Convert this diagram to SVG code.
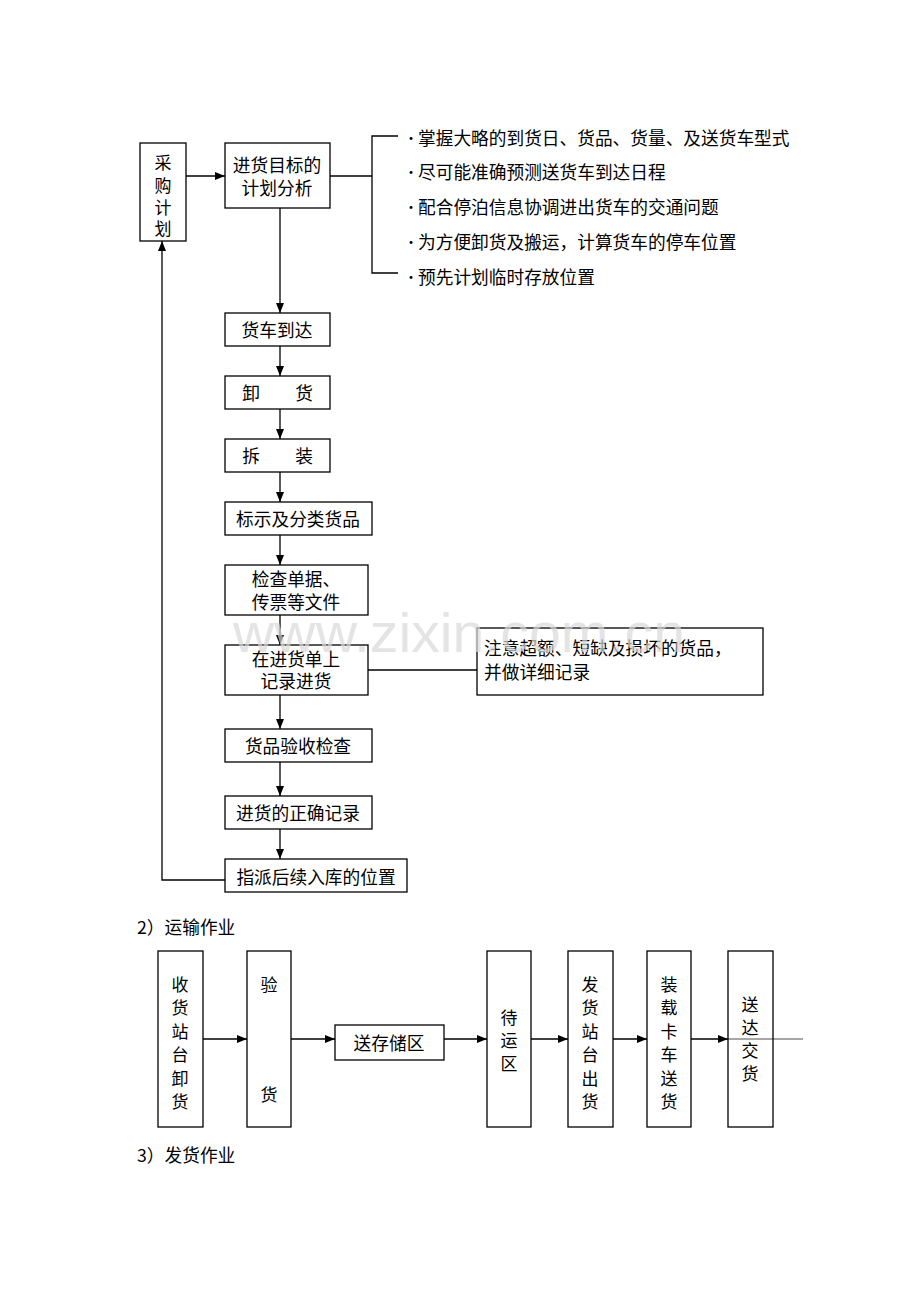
<svg xmlns="http://www.w3.org/2000/svg" width="920" height="1302" viewBox="0 0 920 1302">
<style>
text{font-family:"Noto Sans CJK SC","Liberation Serif",sans-serif;font-size:17.7px;fill:#000;dominant-baseline:central}
.c{text-anchor:middle}
.v{font-size:17px}
.box{fill:#fff;stroke:#000;stroke-width:1.3}
.ln{fill:none;stroke:#000;stroke-width:1.3}
.ar{fill:none;stroke:#000;stroke-width:1.3;marker-end:url(#ah)}
.bu{font-size:14px}
.wm{font-family:"Liberation Sans",Arial,sans-serif;font-size:56px;fill:#d8d8d8;fill-opacity:0.7;dominant-baseline:alphabetic}
</style>
<defs>
<marker id="ah" markerUnits="userSpaceOnUse" markerWidth="10" markerHeight="8" refX="10" refY="4" orient="auto">
<path d="M0,0 L10,4 L0,8 z" fill="#000"/>
</marker>
</defs>
<rect width="920" height="1302" fill="#fff"/>

<g id="connectors">
<line class="ar" x1="186" y1="176" x2="225" y2="176"/>
<polyline class="ln" points="330,176 372,176"/>
<polyline class="ln" points="398,136 372,136 372,273 398,273"/>
<line class="ar" x1="280" y1="208" x2="280" y2="313"/>
<line class="ar" x1="280" y1="346" x2="280" y2="376"/>
<line class="ar" x1="280" y1="409" x2="280" y2="439"/>
<line class="ar" x1="280" y1="472" x2="280" y2="502"/>
<line class="ar" x1="280" y1="535" x2="280" y2="565"/>
<line class="ar" x1="280" y1="615" x2="280" y2="645"/>
<line class="ar" x1="280" y1="695" x2="280" y2="729"/>
<line class="ar" x1="280" y1="762" x2="280" y2="796"/>
<line class="ar" x1="280" y1="829" x2="280" y2="859"/>
<line class="ln" x1="368" y1="670" x2="477" y2="670"/>
<polyline class="ar" points="225,880 162,880 162,241"/>
<line class="ar" x1="203" y1="1039" x2="247" y2="1039"/>
<line class="ar" x1="291" y1="1039" x2="335" y2="1039"/>
<line class="ar" x1="444" y1="1039" x2="487" y2="1039"/>
<line class="ar" x1="531" y1="1039" x2="568" y2="1039"/>
<line class="ar" x1="613" y1="1039" x2="647" y2="1039"/>
<line class="ar" x1="691" y1="1039" x2="728" y2="1039"/>
</g>

<g id="n-caigou"><rect class="box" x="140" y="143" width="46" height="98"/>
<text class="c v" x="163" y="161">采<tspan x="163" dy="22.5">购</tspan><tspan x="163" dy="22">计</tspan><tspan x="163" dy="21.5">划</tspan></text></g>
<g id="n-plan"><rect class="box" x="225" y="143" width="105" height="65"/>
<text class="c" x="277" y="164">进货目标的<tspan x="277" dy="23">计划分析</tspan></text></g>
<g id="n-bullets">
<text class="bu" x="404" y="137">•</text><text x="418" y="137">掌握大略的到货日、货品、货量、及送货车型式</text>
<text class="bu" x="404" y="171">•</text><text x="418" y="171">尽可能准确预测送货车到达日程</text>
<text class="bu" x="404" y="206">•</text><text x="418" y="206">配合停泊信息协调进出货车的交通问题</text>
<text class="bu" x="404" y="241">•</text><text x="418" y="241">为方便卸货及搬运，计算货车的停车位置</text>
<text class="bu" x="404" y="276">•</text><text x="418" y="276">预先计划临时存放位置</text>
</g>
<g id="n-arrive"><rect class="box" x="225" y="313" width="105" height="33"/><text class="c" x="277" y="329">货车到达</text></g>
<g id="n-unload"><rect class="box" x="225" y="376" width="105" height="33"/><text class="c" x="251" y="392">卸</text><text class="c" x="304" y="392">货</text></g>
<g id="n-unpack"><rect class="box" x="225" y="439" width="105" height="33"/><text class="c" x="251" y="455">拆</text><text class="c" x="304" y="455">装</text></g>
<g id="n-label"><rect class="box" x="225" y="502" width="147" height="33"/><text class="c" x="298" y="518">标示及分类货品</text></g>
<g id="n-check"><rect class="box" x="225" y="565" width="143" height="50"/><text class="c" x="296" y="578">检查单据、<tspan x="296" dy="23">传票等文件</tspan></text></g>
<g id="n-record"><rect class="box" x="225" y="645" width="143" height="50"/><text class="c" x="296" y="658">在进货单上<tspan x="296" dy="22">记录进货</tspan></text></g>
<g id="n-note"><rect class="box" x="477" y="628" width="286" height="67"/><text x="484" y="647">注意超额、短缺及损坏的货品，<tspan x="484" dy="24">并做详细记录</tspan></text></g>
<g id="n-inspect"><rect class="box" x="225" y="729" width="147" height="33"/><text class="c" x="298" y="745">货品验收检查</text></g>
<g id="n-correct"><rect class="box" x="225" y="796" width="147" height="33"/><text class="c" x="298" y="812">进货的正确记录</text></g>
<g id="n-assign"><rect class="box" x="225" y="859" width="182" height="33"/><text class="c" x="316" y="876">指派后续入库的位置</text></g>

<text x="137" y="926">2）运输作业</text>
<text x="137" y="1154">3）发货作业</text>

<g id="t-1"><rect class="box" x="158" y="951" width="45" height="176"/>
<text class="c v" x="180" y="983">收<tspan x="180" dy="23.4">货</tspan><tspan x="180" dy="23.4">站</tspan><tspan x="180" dy="23.4">台</tspan><tspan x="180" dy="23.4">卸</tspan><tspan x="180" dy="23.4">货</tspan></text></g>
<g id="t-2"><rect class="box" x="247" y="951" width="44" height="176"/>
<text class="c v" x="269" y="983">验<tspan x="269" dy="110">货</tspan></text></g>
<g id="t-3"><rect class="box" x="335" y="1025" width="109" height="35"/><text class="c" x="389" y="1042">送存储区</text></g>
<g id="t-4"><rect class="box" x="487" y="951" width="44" height="176"/>
<text class="c v" x="509" y="1016">待<tspan x="509" dy="23">运</tspan><tspan x="509" dy="23">区</tspan></text></g>
<g id="t-5"><rect class="box" x="568" y="951" width="45" height="176"/>
<text class="c v" x="590" y="983">发<tspan x="590" dy="23.4">货</tspan><tspan x="590" dy="23.4">站</tspan><tspan x="590" dy="23.4">台</tspan><tspan x="590" dy="23.4">出</tspan><tspan x="590" dy="23.4">货</tspan></text></g>
<g id="t-6"><rect class="box" x="647" y="951" width="44" height="176"/>
<text class="c v" x="669" y="983">装<tspan x="669" dy="23.4">载</tspan><tspan x="669" dy="23.4">卡</tspan><tspan x="669" dy="23.4">车</tspan><tspan x="669" dy="23.4">送</tspan><tspan x="669" dy="23.4">货</tspan></text></g>
<g id="t-7"><rect class="box" x="728" y="951" width="45" height="176"/>
<text class="c v" x="750" y="1003">送<tspan x="750" dy="23">达</tspan><tspan x="750" dy="23">交</tspan><tspan x="750" dy="23">货</tspan></text></g>
<line x1="728" y1="1039" x2="803" y2="1039" stroke="#000" stroke-width="0.7"/>

<text class="wm" x="233" y="652" textLength="452" lengthAdjust="spacingAndGlyphs">www.zixin.com.cn</text>
</svg>
